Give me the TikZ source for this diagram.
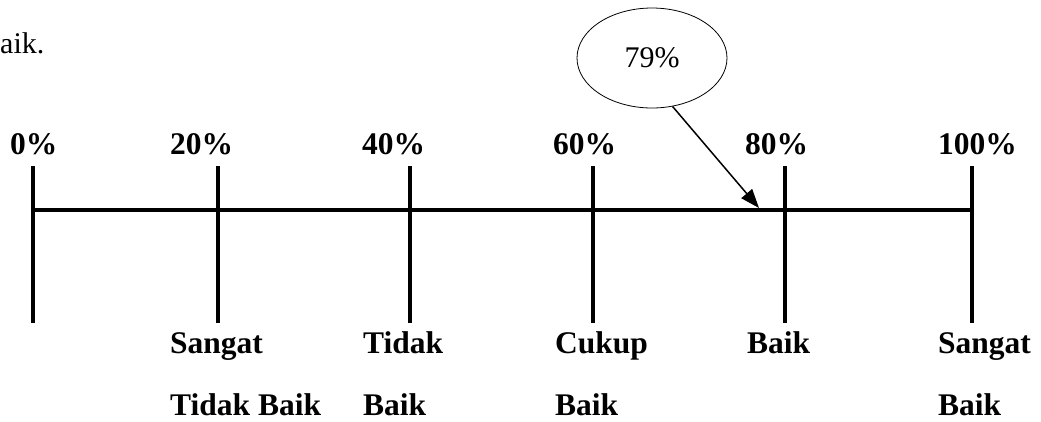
\documentclass[tikz,border=0pt]{standalone}
\usepackage{fontspec}
\setmainfont{Liberation Serif}
\usetikzlibrary{shapes.geometric,arrows.meta}
\begin{document}
\begin{tikzpicture}[x=1pt,y=-1pt,
  lbl/.style={anchor=base west,inner sep=0pt,font=\fontsize{31.5}{36}\selectfont\bfseries},
  plain/.style={anchor=base west,inner sep=0pt,font=\fontsize{30}{35}\selectfont},
  axis/.style={line width=4pt},
  tick/.style={line width=4pt},
  bubble/.style={ellipse,draw,line width=0.8pt,minimum width=150pt,minimum height=100pt,inner sep=0pt,font=\fontsize{30}{35}\selectfont},
  pointer/.style={line width=1.5pt,-{Triangle[length=19pt,width=14pt]}}]
\useasboundingbox (0,0) rectangle (1041,421);

% tail of the preceding sentence
\node[plain] (tail) at (0,53) {aik.};

% tick positions along the scale
\foreach \n/\x in {a/33,b/218,c/410,d/593,e/785,f/972}{
  \coordinate (\n-top) at (\x,166);
  \coordinate (\n-mid) at (\x,210);
  \coordinate (\n-bot) at (\x,323);
  \draw[tick] (\n-top) -- (\n-bot);
}
\draw[axis] (a-mid) -- (f-mid);

% percentage labels
\node[lbl] (p0) at (10,154) {0\%};
\node[lbl] (p20) at (170,154) {20\%};
\node[lbl] (p40) at (362,154) {40\%};
\node[lbl] (p60) at (553,154) {60\%};
\node[lbl] (p80) at (745,154) {80\%};
\node[lbl] (p100) at (938,154) {100\%};

% category labels
\node[lbl] (c1a) at (170,353) {Sangat};
\node[lbl] (c1b) at (170,415) {Tidak Baik};
\node[lbl] (c2a) at (363,353) {Tidak};
\node[lbl] (c2b) at (363,415) {Baik};
\node[lbl] (c3a) at (555,353) {Cukup};
\node[lbl] (c3b) at (555,415) {Baik};
\node[lbl] (c4a) at (747,353) {Baik};
\node[lbl] (c5a) at (938,353) {Sangat};
\node[lbl] (c5b) at (938,415) {Baik};

% result marker
\node[bubble] (res) at (652,58) {79\%};
\coordinate (hit) at (759,208);
\draw[pointer] (res.-67) -- (hit);
\end{tikzpicture}
\end{document}
